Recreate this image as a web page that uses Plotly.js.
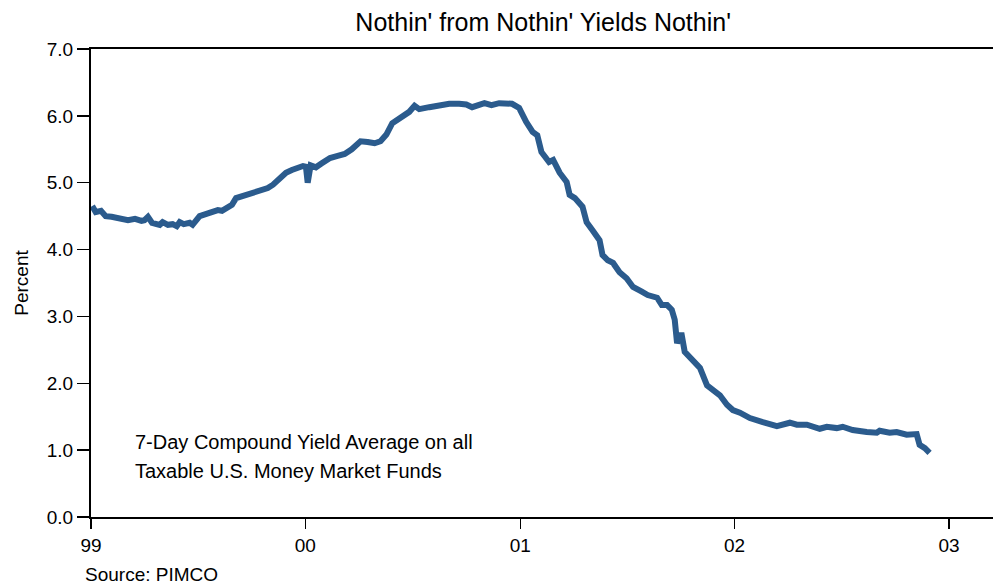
<!DOCTYPE html>
<html>
<head>
<meta charset="utf-8">
<script src="https://cdn.plot.ly/plotly-3.0.1.min.js"></script>
<style>html,body{margin:0;padding:0;background:#fff;}#chart{width:993px;height:584px;}</style>
</head>
<body>
<div id="chart"></div>
<script>
const dates = [
"1999-01-03","1999-01-09","1999-01-18","1999-01-26","1999-02-05","1999-02-19","1999-03-05","1999-03-17","1999-03-28","1999-04-02",
"1999-04-08","1999-04-15","1999-04-28","1999-05-03","1999-05-12","1999-05-20","1999-05-27","1999-06-01","1999-06-08","1999-06-18",
"1999-06-23","1999-07-05","1999-07-14","1999-07-24","1999-08-05","1999-08-12","1999-08-22","1999-08-29","1999-09-05","1999-09-15",
"1999-09-29","1999-10-09","1999-10-19","1999-10-29","1999-11-07","1999-11-19","1999-11-29","1999-12-09","1999-12-19","1999-12-28",
"2000-01-02","2000-01-05","2000-01-10","2000-01-19","2000-01-29","2000-02-12","2000-02-25","2000-03-08","2000-03-20","2000-04-04",
"2000-04-16","2000-04-28","2000-05-08","2000-05-18","2000-05-28","2000-06-06","2000-06-14","2000-06-26","2000-07-05","2000-07-13",
"2000-07-30","2000-08-13","2000-09-02","2000-09-19","2000-10-01","2000-10-11","2000-11-01","2000-11-13","2000-11-26","2000-12-18",
"2000-12-30","2001-01-11","2001-01-22","2001-01-30","2001-02-06","2001-02-19","2001-02-26","2001-03-09","2001-03-21","2001-03-26",
"2001-04-04","2001-04-17","2001-04-24","2001-05-04","2001-05-16","2001-05-21","2001-05-30","2001-06-08","2001-06-19","2001-07-01",
"2001-07-12","2001-07-27","2001-08-06","2001-08-22","2001-08-30","2001-09-08","2001-09-16","2001-09-21","2001-09-25","2001-09-30",
"2001-10-03","2001-10-08","2001-10-20","2001-11-03","2001-11-15","2001-11-25","2001-12-07","2001-12-19","2001-12-29","2002-01-10",
"2002-01-27","2002-02-18","2002-03-14","2002-04-05","2002-04-17","2002-05-04","2002-05-26","2002-06-07","2002-06-24","2002-07-04",
"2002-07-21","2002-08-14","2002-08-31","2002-09-05","2002-09-22","2002-10-04","2002-10-21","2002-11-07","2002-11-12","2002-11-21",
"2002-11-29"
];
const yields = [
4.65,4.56,4.58,4.50,4.49,4.46,4.44,4.46,4.43,4.44,
4.49,4.40,4.37,4.41,4.37,4.38,4.35,4.41,4.38,4.40,
4.37,4.50,4.52,4.56,4.59,4.58,4.64,4.67,4.77,4.80,
4.82,4.86,4.89,4.92,4.97,5.07,5.15,5.19,5.23,5.25,
5.24,5.00,5.26,5.23,5.29,5.37,5.40,5.43,5.50,5.62,
5.61,5.59,5.62,5.72,5.89,5.94,6.01,6.06,6.15,6.10,
6.13,6.15,6.18,6.18,6.17,6.13,6.19,6.16,6.19,6.18,
6.12,5.91,5.76,5.71,5.46,5.31,5.34,5.15,5.01,4.82,
4.77,4.64,4.41,4.29,4.14,3.92,3.84,3.80,3.66,3.57,
3.44,3.37,3.32,3.28,3.17,3.17,3.10,2.95,2.60,2.72,
2.72,2.47,2.35,2.23,1.97,1.90,1.82,1.68,1.60,1.56,
1.48,1.42,1.36,1.41,1.38,1.38,1.32,1.35,1.33,1.35,
1.30,1.27,1.26,1.29,1.26,1.27,1.23,1.24,1.08,1.03,
0.96
];
const xTickVals = ["1999-01-01","2000-01-01","2001-01-01","2002-01-01","2003-01-01"];
const xTickText = ["99","00","01","02","03"];
const yTickVals = [0,1,2,3,4,5,6,7];
const yTickText = ["0.0","1.0","2.0","3.0","4.0","5.0","6.0","7.0"];
const titleText = "Nothin' from Nothin' Yields Nothin'";
const noteLines = ["7-Day Compound Yield Average on all","Taxable U.S. Money Market Funds"];
const sourceText = "Source: PIMCO";

const FONT = "Liberation Sans, Arial, Helvetica, sans-serif";

const trace = {
  x: dates, y: yields, type: "scatter", mode: "lines",
  line: {color: "#2b5b8d", width: 6},
  hoverinfo: "skip"
};

const layout = {
  width: 993, height: 584,
  margin: {l: 91, r: 0, t: 49, b: 67},
  paper_bgcolor: "#fff", plot_bgcolor: "#fff",
  showlegend: false,
  font: {family: FONT, color: "#000", size: 19},
  title: {text: titleText, font: {family: FONT, size: 25, color: "#000"}, x: 0.547, xanchor: "center", y: 0.962, yanchor: "middle"},
  xaxis: {
    type: "date", range: ["1999-01-01", "2003-03-17"],
    tickmode: "array", tickvals: xTickVals, ticktext: xTickText,
    ticks: "outside", ticklen: 10, tickwidth: 1.5, tickcolor: "#000",
    showline: true, linecolor: "#000", linewidth: 2, mirror: true,
    showgrid: false, zeroline: false,
    tickfont: {family: FONT, size: 19, color: "#000"}
  },
  yaxis: {
    range: [0, 7], tickmode: "array", tickvals: yTickVals, ticktext: yTickText,
    ticks: "outside", ticklen: 12, tickwidth: 1.5, tickcolor: "#000",
    showline: true, linecolor: "#000", linewidth: 2,
    showgrid: false, zeroline: false,
    tickfont: {family: FONT, size: 19, color: "#000"},
    title: {text: "Percent", font: {family: FONT, size: 19, color: "#000"}, standoff: 13}
  },
  annotations: [
    {xref: "paper", yref: "paper", x: 0.0465, y: 0.160, xanchor: "left", yanchor: "middle", showarrow: false,
     text: noteLines[0], font: {family: FONT, size: 20, color: "#000"}},
    {xref: "paper", yref: "paper", x: 0.0465, y: 0.098, xanchor: "left", yanchor: "middle", showarrow: false,
     text: noteLines[1], font: {family: FONT, size: 20, color: "#000"}},
    {xref: "paper", yref: "paper", x: -0.009, y: -0.122, xanchor: "left", yanchor: "middle", showarrow: false,
     text: sourceText, font: {family: FONT, size: 19, color: "#000"}}
  ]
};

Plotly.newPlot("chart", [trace], layout, {displayModeBar: false, staticPlot: true});
</script>
</body>
</html>
